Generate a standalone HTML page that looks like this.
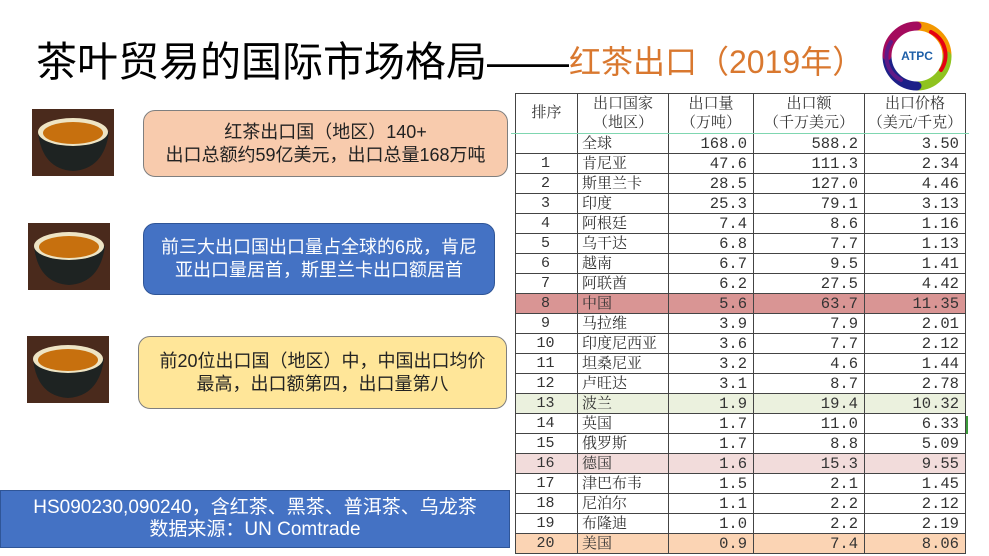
<!DOCTYPE html>
<html><head><meta charset="utf-8"><style>
*{margin:0;padding:0;box-sizing:border-box}
body{width:989px;height:556px;overflow:hidden;background:#fff;position:relative;font-family:"Liberation Sans","Noto Sans CJK SC",sans-serif}
.title{position:absolute;left:36px;top:38px;font-size:41px;line-height:48px;color:#000;white-space:nowrap;letter-spacing:0px}
.title span{color:#d9782f;font-size:32px;vertical-align:3px}
.box{position:absolute;border:1.5px solid #7f7f7f;border-radius:12px;display:flex;align-items:center;justify-content:center;text-align:center;font-size:18px;line-height:23px;color:#222}
.cup{position:absolute;width:82px;height:67px}
table{position:absolute;left:515px;top:93px;border-collapse:collapse;font-family:"Liberation Serif","Noto Serif CJK SC",serif;font-size:15px;color:#333}
td{border:1px solid #444;height:20px;line-height:18px;padding:0 6px 0 4px;white-space:nowrap}
td:nth-child(1){width:62px;text-align:center;font-family:"Liberation Mono",monospace;font-size:15px}
td:nth-child(2){width:91px;text-align:left}
td:nth-child(3),td:nth-child(4),td:nth-child(5){font-family:"Liberation Mono",monospace;font-size:15.5px;text-align:right}
td:nth-child(3){width:85px}
td:nth-child(4){width:111px}
td:nth-child(5){width:101px}
tr.h td{height:40px;line-height:19px;text-align:center;padding:0;font-family:"Liberation Serif","Noto Serif CJK SC",serif;font-size:15px}
tr.cn td{background:#d99594}
tr.pl td{background:#ebf1de}
tr.de td{background:#f2dcdb}
tr.us td{background:#fbd4b4}
</style></head><body>
<div class="title">茶叶贸易的国际市场格局——<span>红茶出口（2019年）</span></div>
<svg style="position:absolute;left:881px;top:20px" width="72" height="72" viewBox="0 0 72 72">
<g fill="none" stroke-width="9" stroke-linecap="round">
<path d="M36 6 A30 30 0 0 1 66 36" stroke="#f39800"/>
<path d="M66 36 A30 30 0 0 1 36 66" stroke="#8fc31f"/>
<path d="M36 66 A30 30 0 0 1 6 36" stroke="#1d2088"/>
<path d="M6 36 A30 30 0 0 1 36 6" stroke="#a40b5d"/>
<path d="M50 12 A26 26 0 0 1 60 50" stroke="#e60012" stroke-width="4"/>
<path d="M20 60 A26 26 0 0 1 10 22" stroke="#601986" stroke-width="4"/>
</g>
<circle cx="36" cy="36" r="20" fill="#fff"/>
<text x="36" y="40" text-anchor="middle" font-family="Liberation Sans" font-weight="bold" font-size="12" fill="#1d5fa8">ATPC</text>
</svg>

<svg class="cup" style="left:32px;top:109px" viewBox="0 0 82 67"><rect width="82" height="67" fill="#4a2a1c"/><path d="M6 23 Q10 60 41 62 Q72 60 77 23 Z" fill="#1e2322"/><ellipse cx="41" cy="23" rx="35" ry="14" fill="#eee4c4"/><ellipse cx="41" cy="24" rx="30" ry="11" fill="#c7700e"/></svg>
<svg class="cup" style="left:28px;top:223px" viewBox="0 0 82 67"><rect width="82" height="67" fill="#4a2a1c"/><path d="M6 23 Q10 60 41 62 Q72 60 77 23 Z" fill="#1e2322"/><ellipse cx="41" cy="23" rx="35" ry="14" fill="#eee4c4"/><ellipse cx="41" cy="24" rx="30" ry="11" fill="#c7700e"/></svg>
<svg class="cup" style="left:27px;top:336px" viewBox="0 0 82 67"><rect width="82" height="67" fill="#4a2a1c"/><path d="M6 23 Q10 60 41 62 Q72 60 77 23 Z" fill="#1e2322"/><ellipse cx="41" cy="23" rx="35" ry="14" fill="#eee4c4"/><ellipse cx="41" cy="24" rx="30" ry="11" fill="#c7700e"/></svg>

<div class="box" style="left:143px;top:110px;width:365px;height:67px;background:#f8cbad">红茶出口国（地区）140+<br>出口总额约59亿美元，出口总量168万吨</div>
<div class="box" style="left:143px;top:223px;width:352px;height:72px;background:#4472c4;color:#fff;border-color:#2f5597">前三大出口国出口量占全球的6成，肯尼<br>亚出口量居首，斯里兰卡出口额居首</div>
<div class="box" style="left:138px;top:336px;width:369px;height:73px;background:#ffe699">前20位出口国（地区）中，中国出口均价<br>最高，出口额第四，出口量第八</div>
<div class="box" style="left:0;top:490px;width:510px;height:58px;border-radius:0;background:#4472c4;color:#fff;border-color:#2f5597;line-height:22px;font-size:19px">HS090230,090240，含红茶、黑茶、普洱茶、乌龙茶<br>数据来源：UN Comtrade</div>

<table>
<tr class="h"><td>排序</td><td style="text-align:center">出口国家<br>（地区）</td><td style="text-align:center">出口量<br>（万吨）</td><td style="text-align:center">出口额<br>（千万美元）</td><td style="text-align:center">出口价格<br>（美元/千克）</td></tr>
<tr><td></td><td>全球</td><td>168.0</td><td>588.2</td><td>3.50</td></tr>
<tr><td>1</td><td>肯尼亚</td><td>47.6</td><td>111.3</td><td>2.34</td></tr>
<tr><td>2</td><td>斯里兰卡</td><td>28.5</td><td>127.0</td><td>4.46</td></tr>
<tr><td>3</td><td>印度</td><td>25.3</td><td>79.1</td><td>3.13</td></tr>
<tr><td>4</td><td>阿根廷</td><td>7.4</td><td>8.6</td><td>1.16</td></tr>
<tr><td>5</td><td>乌干达</td><td>6.8</td><td>7.7</td><td>1.13</td></tr>
<tr><td>6</td><td>越南</td><td>6.7</td><td>9.5</td><td>1.41</td></tr>
<tr><td>7</td><td>阿联酋</td><td>6.2</td><td>27.5</td><td>4.42</td></tr>
<tr class="cn"><td>8</td><td>中国</td><td>5.6</td><td>63.7</td><td>11.35</td></tr>
<tr><td>9</td><td>马拉维</td><td>3.9</td><td>7.9</td><td>2.01</td></tr>
<tr><td>10</td><td>印度尼西亚</td><td>3.6</td><td>7.7</td><td>2.12</td></tr>
<tr><td>11</td><td>坦桑尼亚</td><td>3.2</td><td>4.6</td><td>1.44</td></tr>
<tr><td>12</td><td>卢旺达</td><td>3.1</td><td>8.7</td><td>2.78</td></tr>
<tr class="pl"><td>13</td><td>波兰</td><td>1.9</td><td>19.4</td><td>10.32</td></tr>
<tr><td>14</td><td>英国</td><td>1.7</td><td>11.0</td><td>6.33</td></tr>
<tr><td>15</td><td>俄罗斯</td><td>1.7</td><td>8.8</td><td>5.09</td></tr>
<tr class="de"><td>16</td><td>德国</td><td>1.6</td><td>15.3</td><td>9.55</td></tr>
<tr><td>17</td><td>津巴布韦</td><td>1.5</td><td>2.1</td><td>1.45</td></tr>
<tr><td>18</td><td>尼泊尔</td><td>1.1</td><td>2.2</td><td>2.12</td></tr>
<tr><td>19</td><td>布隆迪</td><td>1.0</td><td>2.2</td><td>2.19</td></tr>
<tr class="us"><td>20</td><td>美国</td><td>0.9</td><td>7.4</td><td>8.06</td></tr>
</table>
<div style="position:absolute;left:511px;top:133px;width:458px;height:1px;background:#7fd6b0"></div>
<div style="position:absolute;left:966px;top:416px;width:2px;height:18px;background:#3a9a3a"></div>
</body></html>
